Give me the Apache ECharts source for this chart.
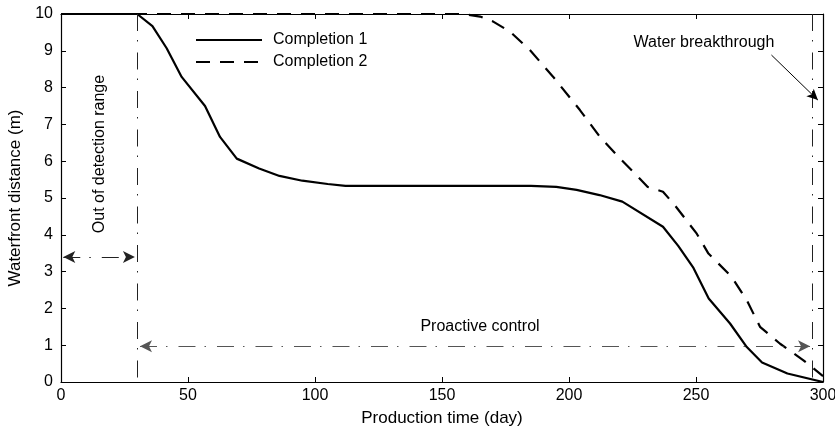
<!DOCTYPE html>
<html>
<head>
<meta charset="utf-8">
<script src="https://cdn.jsdelivr.net/npm/echarts@6/dist/echarts.min.js"></script>
<style>
  html, body { margin: 0; padding: 0; background: #fff; }
  #main { width: 835px; height: 429px; }
</style>
</head>
<body>
<div id="main"></div>
<script>
// 数据
var completion1 = [
    [0, 10], [30, 10], [36, 9.67], [41.6, 9.07], [47.5, 8.29], [56.7, 7.5],
    [62.6, 6.66], [69.2, 6.07], [78, 5.8], [86, 5.6], [95, 5.47], [105, 5.38],
    [112, 5.33], [150, 5.33], [185, 5.33], [195, 5.3], [203, 5.22], [212, 5.08],
    [221, 4.9], [237, 4.22], [243, 3.7], [249, 3.1], [255, 2.27], [263.4, 1.59],
    [270, 0.95], [276, 0.53], [286, 0.23], [300, 0]
];
var completion2 = [
    [0, 10], [158, 10], [165, 9.93], [170, 9.8], [176.8, 9.52], [184.6, 9.02],
    [193.8, 8.29], [204.3, 7.39], [212.2, 6.66], [219.4, 6.12], [226.6, 5.62],
    [231, 5.3], [237, 5.17], [241.7, 4.8], [250.3, 4.03], [254.9, 3.49],
    [264, 2.86], [270, 2.22], [275.2, 1.5], [283.1, 1.04], [292.3, 0.59], [300, 0.16]
];
var xTicks = [0, 50, 100, 150, 200, 250, 300];
var yTicks = [0, 1, 2, 3, 4, 5, 6, 7, 8, 9, 10];

// 标注线的位置
var detectLimit = 30;      // 探测范围边界
var breakthrough = 295.8;  // 见水时间
var outArrowY = 3.4;
var controlArrowY = 0.97;

var chart = echarts.init(document.getElementById('main'));

var font = 'Liberation Sans, Arial, Helvetica, sans-serif';
var dashDot = [17, 9, 1.5, 11];

function boxAxis(pos, min, max, interval) {
    return {
        type: 'value',
        position: pos,
        min: min,
        max: max,
        interval: interval,
        axisLine: { show: true, onZero: false, lineStyle: { color: '#000', width: 1.2 } },
        axisTick: { show: true, inside: true, length: 5, lineStyle: { color: '#000' } },
        axisLabel: { show: false },
        splitLine: { show: false }
    };
}

var topAxis = boxAxis('top', 0, 300, 50);
var rightAxis = boxAxis('right', 0, 10, 1);

var option = {
    animation: false,
    grid: { left: 61, right: 12, top: 14, bottom: 47, outerBoundsMode: 'none', containLabel: false },
    legend: {
        orient: 'vertical',
        left: 195,
        top: 32,
        padding: 0,
        itemWidth: 66,
        itemHeight: 14,
        itemGap: 6,
        data: ['Completion 1', 'Completion 2'],
        itemStyle: { opacity: 0, borderWidth: 0 },
        textStyle: { fontFamily: font, fontSize: 16, color: '#000', padding: [0, 0, 0, 6] }
    },
    xAxis: [{
        type: 'value',
        min: 0,
        max: 300,
        interval: 50,
        name: 'Production time (day)',
        nameLocation: 'middle',
        nameGap: 28,
        nameTextStyle: { fontFamily: font, fontSize: 17, color: '#000' },
        axisLine: { show: true, onZero: false, lineStyle: { color: '#000', width: 1.2 } },
        axisTick: { show: true, inside: true, length: 5, lineStyle: { color: '#000' } },
        axisLabel: {
            fontFamily: font, fontSize: 16, color: '#000', margin: 6,
            customValues: xTicks
        },
        splitLine: { show: false }
    }, topAxis],
    yAxis: [{
        type: 'value',
        min: 0,
        max: 10,
        interval: 1,
        name: 'Waterfront distance (m)',
        nameLocation: 'middle',
        nameGap: 28,
        nameTextStyle: { fontFamily: font, fontSize: 17, color: '#000' },
        axisLine: { show: true, onZero: false, lineStyle: { color: '#000', width: 1.2 } },
        axisTick: { show: true, inside: true, length: 5, lineStyle: { color: '#000' } },
        axisLabel: {
            fontFamily: font, fontSize: 16, color: '#000', margin: 8,
            customValues: yTicks
        },
        splitLine: { show: false }
    }, rightAxis],
    series: [{
        name: 'Completion 1',
        type: 'line',
        data: completion1,
        symbol: 'none',
        color: '#000',
        lineStyle: { color: '#000', width: 2.2 },
        z: 3,
        markLine: {
            silent: true,
            symbol: ['none', 'none'],
            label: { show: false },
            animation: false,
            lineStyle: { color: '#222', width: 1, type: dashDot },
            data: [
                [{ coord: [detectLimit, 10] }, { coord: [detectLimit, 0] }],
                [{ coord: [breakthrough, 10] }, { coord: [breakthrough, 0] }],
                // 左侧双向箭头
                [{ coord: [0.9, outArrowY], symbol: 'arrow', symbolSize: [9, 12] },
                 { coord: [29.1, outArrowY], symbol: 'arrow', symbolSize: [9, 12],
                   lineStyle: { color: '#222', width: 1, type: dashDot } }],
                // 主动控制双向箭头
                [{ coord: [31.1, controlArrowY], symbol: 'arrow', symbolSize: [9, 12] },
                 { coord: [294.9, controlArrowY], symbol: 'arrow', symbolSize: [9, 12],
                   lineStyle: { color: '#555', width: 1, type: dashDot } }],
                // 见水指示箭头
                [{ coord: [279.7, 8.885], symbol: 'none' },
                 { coord: [298.0, 7.66], symbol: 'arrow', symbolSize: [8, 11],
                   lineStyle: { color: '#000', width: 1, type: 'solid' } }]
            ]
        }
    }, {
        name: 'Completion 2',
        type: 'line',
        data: completion2,
        symbol: 'none',
        color: '#000',
        lineStyle: { color: '#000', width: 2.2, type: [14, 10] },
        z: 3
    }],
    graphic: [{
        type: 'text',
        x: 100,
        y: 154,
        rotation: Math.PI / 2,
        style: {
            text: 'Out of detection range',
            fontFamily: font, fontSize: 16, fill: '#000',
            textAlign: 'center', textVerticalAlign: 'middle'
        }
    }, {
        type: 'text',
        x: 480,
        y: 327,
        style: {
            text: 'Proactive control',
            fontFamily: font, fontSize: 16, fill: '#000',
            textAlign: 'center', textVerticalAlign: 'middle'
        }
    }, {
        type: 'text',
        x: 704,
        y: 43,
        style: {
            text: 'Water breakthrough',
            fontFamily: font, fontSize: 16, fill: '#000',
            textAlign: 'center', textVerticalAlign: 'middle'
        }
    }]
};

chart.setOption(option);
</script>
</body>
</html>
